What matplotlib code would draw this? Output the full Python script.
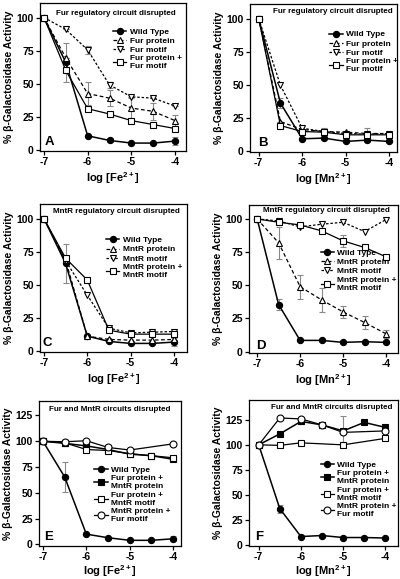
import matplotlib
matplotlib.use("Agg")
import matplotlib.pyplot as plt

plt.rcParams['font.family'] = ['Liberation Sans', 'DejaVu Sans']
plt.rcParams['font.weight'] = 'bold'
plt.rcParams['axes.linewidth'] = 0.9
plt.rcParams['mathtext.fontset'] = 'custom'
plt.rcParams['mathtext.rm'] = 'Liberation Sans:bold'
plt.rcParams['mathtext.bf'] = 'Liberation Sans:bold'
plt.rcParams['mathtext.it'] = 'Liberation Sans:bold'

# concentrations (log M)
x_log = [-7, -6.5, -6, -5.5, -5, -4.5, -4]

# Panel A: Fe, Fur circuit
a_wt = [100, 66, 10.5, 7, 5, 5, 6.5]
a_wt_err = [0, 14.5, 0, 1.5, 0, 0, 3]
a_prot = [100, 69.5, 42.5, 39, 31.5, 29, 22]
a_prot_err = [0, 0, 8.5, 6, 7.5, 6.5, 4.5]
a_motif = [100, 91, 75.5, 49, 40, 39, 33]
a_motif_err = [0, 0, 3, 2.5, 0, 0, 0]
a_both = [100, 60, 31, 27, 22, 19, 16]
a_both_err = [0, 0, 0, 0, 0, 0, 0]

# Panel B: Mn, Fur circuit
b_wt = [100, 36, 9, 9.5, 7, 8, 7]
b_wt_err = [0, 4, 0, 0, 0, 1.5, 0]
b_prot = [100, 22, 16, 14.5, 14, 13, 13]
b_prot_err = [0, 0, 0, 2.5, 0, 4, 0]
b_motif = [100, 49.5, 17, 14.5, 13, 12.5, 13]
b_both = [100, 19, 14.5, 14, 12, 12, 12]

# Panel C: Fe, MntR circuit
c_wt = [100, 66, 11, 7, 5.5, 5.5, 6.5]
c_wt_err = [0, 14.5, 0, 0, 0, 0, 3]
c_prot = [100, 68.5, 11, 8.5, 8, 8, 8.5]
c_motif = [100, 68, 42, 17, 13.5, 14, 14.5]
c_both = [100, 70, 53.5, 15.5, 12.5, 12.5, 12.5]
c_both_err = [0, 0, 0, 0, 0, 0, 2.5]

# Panel D: Mn, MntR circuit
d_wt = [100, 35.5, 8.5, 8.5, 7, 7.5, 7]
d_wt_err = [0, 4, 0, 0, 0, 0, 0]
d_prot = [100, 82, 49, 39, 30, 22, 13.5]
d_prot_err = [0, 12, 9, 9, 4.5, 5, 3]
d_motif = [100, 98.5, 94, 96, 97.5, 90.5, 99.5]
d_both = [100, 97.5, 95.5, 91, 83.5, 78.5, 71.5]
d_both_err = [0, 0, 0, 0, 4.5, 0, 0]

# Panel E: Fe, both circuits
e_wt = [100, 65.5, 10, 6.5, 4, 4, 5.5]
e_wt_err = [0, 14.5, 0, 0, 0, 0, 2.5]
e_fp_mp = [100, 98, 95.5, 92, 87.5, 86, 82.5]
e_fp_mm = [100, 98.5, 92, 91, 88, 86, 84]
e_mp_fm_x = [-7, -6.5, -6, -5.5, -5, -4]
e_mp_fm = [100, 99.5, 100.5, 94, 91.5, 97.5]

# Panel F: Mn, both circuits
f_wt = [100, 36, 8, 9, 7, 7, 6.5]
f_wt_err = [0, 4, 0, 0, 0, 0, 0]
f_fp_mp = [100, 111, 123.5, 120, 114, 122.5, 117.5]
f_fp_mp_err = [0, 0, 3, 0, 15, 0, 0]
f_fp_mm_x = [-7, -6.5, -6, -5, -4]
f_fp_mm = [100, 99.5, 102, 100, 106.5]
f_mp_fm_x = [-7, -6.5, -6, -5.5, -5, -4]
f_mp_fm = [100, 127, 126, 120, 112.5, 114]

W, H = 400, 579
fig = plt.figure(figsize=(W / 100, H / 100), dpi=100)


def make_ax(l, r, t, b, xlim, ylim, yticks):
    ax = fig.add_axes([l / W, 1 - b / H, (r - l) / W, (b - t) / H])
    ax.set_xlim(*xlim)
    ax.set_ylim(*ylim)
    ax.set_xticks([-7, -6, -5, -4])
    ax.set_xticklabels(['-7', '-6', '-5', '-4'])
    ax.set_yticks(yticks)
    ax.tick_params(direction='out', length=3, width=0.9, labelsize=7.5, pad=1.5)
    for lab in ax.get_xticklabels() + ax.get_yticklabels():
        lab.set_fontweight('bold')
    ax.set_ylabel('% β-Galactosidase Activity', fontsize=7.5, fontweight='bold', labelpad=2)
    return ax


def series(ax, x, y, err=None, marker='o', fill='k', ls='-', lw=0.9, ms=4.5, label=None):
    if err is not None:
        ax.errorbar(x, y, yerr=err, fmt='none', ecolor='#888888', elinewidth=0.8,
                    capsize=2, capthick=0.8, zorder=2)
    line, = ax.plot(x, y, marker=marker, color='k', mfc=fill, mec='k', mew=0.8,
                    ms=ms, lw=lw, ls=ls, label=label, zorder=3)
    return line


def finish(ax, title, tx, ty, tha, letter, lx, ly, legx, legy, xlabel, lpad=2):
    ax.text(tx, ty, title, transform=ax.transAxes, ha=tha, va='center',
            fontsize=5.8, fontweight='bold')
    ax.text(lx, ly, letter, transform=ax.transAxes, ha='center', va='center',
            fontsize=9.5, fontweight='bold')
    ax.legend(loc='upper left', bbox_to_anchor=(legx, legy), frameon=False,
              borderpad=0, borderaxespad=0, handlelength=1.6,
              handletextpad=0.4, labelspacing=0.15, prop={'weight': 'bold', 'size': 6})
    ax.set_xlabel(xlabel, fontsize=8, fontweight='bold', labelpad=lpad)


fe = 'log [Fe$^{2+}$]'
mn = 'log [Mn$^{2+}$]'

# A
ax = make_ax(40, 186, 3, 151, (-7.09, -3.75), (-1, 111), [0, 25, 50, 75, 100])
series(ax, x_log, a_wt, a_wt_err, 'o', 'k', '-', 1.1, label='Wild Type')
series(ax, x_log, a_prot, a_prot_err, '^', 'w', (0, (3, 2)), label='Fur protein')
series(ax, x_log, a_motif, a_motif_err, 'v', 'w', (0, (2, 1.5)), label='Fur motif')
series(ax, x_log, a_both, a_both_err, 's', 'w', '-', ms=5, label='Fur protein +\nFur motif')
finish(ax, 'Fur regulatory circuit disrupted', 0.93, 0.93, 'right', 'A', 0.065, 0.06, 0.5, 0.83, fe)

# B
ax = make_ax(250, 397, 4, 152, (-7.2, -3.82), (-1, 111), [0, 25, 50, 75, 100])
series(ax, x_log, b_wt, b_wt_err, 'o', 'k', '-', 1.1, label='Wild Type')
series(ax, x_log, b_prot, b_prot_err, '^', 'w', (0, (3, 2)), label='Fur protein')
series(ax, x_log, b_motif, None, 'v', 'w', (0, (2, 1.5)), label='Fur motif')
series(ax, x_log, b_both, None, 's', 'w', '-', ms=5, label='Fur protein +\nFur motif')
finish(ax, 'Fur regulatory circuit disrupted', 0.97, 0.946, 'right', 'B', 0.09, 0.06, 0.54, 0.82, mn)

# C
ax = make_ax(40, 187, 204, 352, (-7.09, -3.7), (-1, 111), [0, 25, 50, 75, 100])
series(ax, x_log, c_wt, c_wt_err, 'o', 'k', '-', 1.1, label='Wild Type')
series(ax, x_log, c_prot, None, '^', 'w', (0, (3, 2)), label='MntR protein')
series(ax, x_log, c_motif, None, 'v', 'w', (0, (2, 1.5)), label='MntR motif')
series(ax, x_log, c_both, c_both_err, 's', 'w', '-', ms=5, label='MntR protein +\nMntR motif')
finish(ax, 'MntR regulatory circuit disrupted', 0.95, 0.946, 'right', 'C', 0.05, 0.06, 0.45, 0.78, fe)

# D
ax = make_ax(249, 398, 205, 353, (-7.19, -3.72), (-1, 110.5), [0, 25, 50, 75, 100])
series(ax, x_log, d_wt, d_wt_err, 'o', 'k', '-', 1.1, label='Wild Type')
series(ax, x_log, d_prot, d_prot_err, '^', 'w', (0, (3, 2)), label='MntR protein')
series(ax, x_log, d_motif, None, 'v', 'w', (0, (2, 1.5)), label='MntR motif')
series(ax, x_log, d_both, d_both_err, 's', 'w', '-', ms=5, label='MntR protein +\nMntR motif')
finish(ax, 'MntR regulatory circuit disrupted', 0.52, 0.966, 'center', 'D', 0.08, 0.05, 0.48, 0.70, mn)

# E
ax = make_ax(39, 181, 401, 546, (-7.09, -3.82), (-1.5, 139), [0, 25, 50, 75, 100, 125])
series(ax, x_log, e_wt, e_wt_err, 'o', 'k', '-', 1.1, label='Wild Type')
series(ax, x_log, e_fp_mp, None, 's', 'k', '-', 1.1, ms=5, label='Fur protein +\nMntR protein')
series(ax, x_log, e_fp_mm, None, 's', 'w', '-', ms=5, label='Fur protein +\nMntR motif')
series(ax, e_mp_fm_x, e_mp_fm, None, 'o', 'w', '-', ms=5, label='MntR protein +\nFur motif')
finish(ax, 'Fur and MntR circuits disrupted', 0.5, 0.94, 'center', 'E', 0.065, 0.06, 0.39, 0.55, fe, 0.5)

# F
ax = make_ax(249, 398, 400, 546, (-7.23, -3.7), (-1.5, 145), [0, 25, 50, 75, 100, 125])
series(ax, x_log, f_wt, f_wt_err, 'o', 'k', '-', 1.1, label='Wild Type')
series(ax, x_log, f_fp_mp, f_fp_mp_err, 's', 'k', '-', 1.1, ms=5, label='Fur protein +\nMntR protein')
series(ax, f_fp_mm_x, f_fp_mm, None, 's', 'w', '-', ms=5, label='Fur protein +\nMntR motif')
series(ax, f_mp_fm_x, f_mp_fm, None, 'o', 'w', '-', ms=5, label='MntR protein +\nFur motif')
finish(ax, 'Fur and MntR circuits disrupted', 0.555, 0.946, 'center', 'F', 0.07, 0.06, 0.48, 0.58, mn, 0.5)

fig.savefig('out.png', dpi=100)
